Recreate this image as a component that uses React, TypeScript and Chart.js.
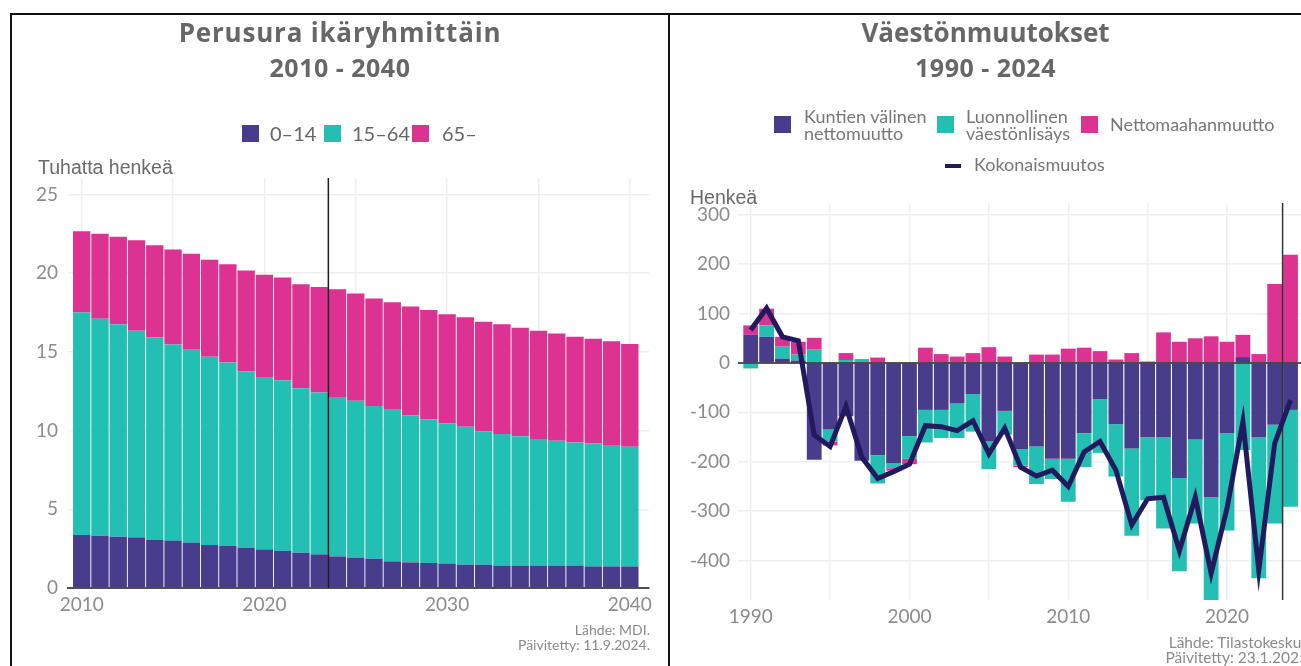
import React, { useEffect, useRef } from "react";
import { Chart, registerables } from "chart.js";

Chart.register(...registerables);

// ---------- Left chart data: Perusura ikäryhmittäin 2010 - 2040 (tuhatta henkeä) ----------
const popYears = [
  2010, 2011, 2012, 2013, 2014, 2015, 2016, 2017, 2018, 2019, 2020, 2021, 2022, 2023, 2024, 2025,
  2026, 2027, 2028, 2029, 2030, 2031, 2032, 2033, 2034, 2035, 2036, 2037, 2038, 2039, 2040,
];
const age0to14 = [
  3.37, 3.32, 3.26, 3.22, 3.05, 3.01, 2.88, 2.73, 2.67, 2.56, 2.45, 2.35, 2.24, 2.14, 2.01, 1.91,
  1.86, 1.69, 1.63, 1.59, 1.53, 1.48, 1.48, 1.42, 1.42, 1.42, 1.42, 1.42, 1.37, 1.37, 1.37,
];
const age15to64 = [
  14.13, 13.78, 13.5, 13.12, 12.86, 12.46, 12.25, 11.97, 11.65, 11.21, 10.96, 10.85, 10.45, 10.28,
  10.13, 9.98, 9.71, 9.63, 9.34, 9.13, 8.92, 8.76, 8.48, 8.37, 8.22, 8.05, 7.94, 7.82, 7.82, 7.72,
  7.61,
];
const age65plus = [
  5.17, 5.4, 5.55, 5.76, 5.87, 6.04, 6.1, 6.15, 6.25, 6.4, 6.49, 6.53, 6.61, 6.71, 6.84, 6.82, 6.82,
  6.84, 6.91, 6.95, 6.94, 6.96, 6.95, 6.97, 6.89, 6.87, 6.81, 6.72, 6.64, 6.59, 6.53,
];
const popLegend = ["0–14", "15–64", "65–"];
const popXTicks = [2010, 2015, 2020, 2025, 2030, 2035, 2040];
const popYTicks = [0, 5, 10, 15, 20, 25];

// ---------- Right chart data: Väestönmuutokset 1990 - 2024 (henkeä) ----------
const changeYears = [
  1990, 1991, 1992, 1993, 1994, 1995, 1996, 1997, 1998, 1999, 2000, 2001, 2002, 2003, 2004, 2005,
  2006, 2007, 2008, 2009, 2010, 2011, 2012, 2013, 2014, 2015, 2016, 2017, 2018, 2019, 2020, 2021,
  2022, 2023, 2024,
];
const internalMigration = [
  57, 53, 9, 5, -196, -134, -108, -198, -187, -203, -148, -95, -95, -82, -63, -159, -97, -174, -169,
  -194, -194, -142, -73, -124, -173, -150, -150, -233, -155, -272, -142, 12, -150, -125, -95,
];
const naturalIncrease = [
  -11, 23, 24, 12, 28, -25, 6, 8, -57, -10, -46, -66, -57, -70, -76, -56, -48, -34, -76, -41, -87,
  -69, -109, -106, -177, -128, -185, -189, -170, -208, -197, -176, -286, -200, -196,
];
const netImmigration = [
  19, 34, 20, 26, 23, -8, 14, 0, 11, -5, -11, 31, 18, 13, 20, 32, 13, -3, 17, 17, 29, 31, 24, 7, 20,
  3, 62, 43, 50, 54, 43, 45, 18, 160, 219,
];
const totalChange = [
  67, 111, 53, 45, -146, -169, -88, -191, -234, -220, -205, -127, -129, -137, -117, -184, -132,
  -211, -229, -217, -250, -180, -159, -217, -328, -275, -272, -380, -272, -426, -294, -119, -420,
  -163, -75,
];
const changeLegend = [
  ["Kuntien välinen", "nettomuutto"],
  ["Luonnollinen", "väestönlisäys"],
  ["Nettomaahanmuutto"],
  ["Kokonaismuutos"],
];
const changeXTicks = [1990, 1995, 2000, 2005, 2010, 2015, 2020];
const changeYTicks = [-400, -300, -200, -100, 0, 100, 200, 300];

const forecastMarker = 2023.5;

// ---------- Styles ----------
const PURPLE = "#483c8c";
const TEAL = "#24bfb3";
const MAGENTA = "#dc3292";
const NAVY = "#23195f";
const GRID = "#efefef";
const TICK = "#8c8c8c";
const TITLE = "#676767";
const FONT = "Lato, 'Open Sans', sans-serif";
const TITLE_FONT = "'Open Sans', Lato, sans-serif";

const markerPlugin = {
  id: "markerLeft",
  afterDatasetsDraw(chart: any) {
    const { ctx, chartArea, scales } = chart;
    const px = scales.x.getPixelForValue(forecastMarker);
    ctx.save();
    ctx.strokeStyle = "#1c1c1c";
    ctx.lineWidth = 1.5;
    ctx.beginPath();
    ctx.moveTo(px, chartArea.top);
    ctx.lineTo(px, chartArea.bottom);
    ctx.stroke();
    ctx.restore();
  },
};

const markerRightPlugin = {
  id: "markerRight",
  beforeDatasetDraw(chart: any, args: any) {
    if (args.index !== 3) return;
    const { ctx, chartArea, scales } = chart;
    const py = scales.y.getPixelForValue(0);
    const px = scales.x.getPixelForValue(forecastMarker);
    ctx.save();
    ctx.strokeStyle = "#1c1c1c";
    ctx.lineWidth = 1.5;
    ctx.beginPath();
    ctx.moveTo(chartArea.left, py);
    ctx.lineTo(chartArea.right, py);
    ctx.stroke();
    ctx.strokeStyle = "#333";
    ctx.beginPath();
    ctx.moveTo(px, chartArea.top);
    ctx.lineTo(px, chartArea.bottom);
    ctx.stroke();
    ctx.restore();
  },
};

const tickFont = { family: FONT, size: 19 };

function pts(xs: number[], ys: number[]) {
  return xs.map((x, i) => ({ x, y: ys[i] }));
}
const setTicks = (values: number[]) => (s: any) => {
  s.ticks = values.map((v) => ({ value: v }));
};

const abs = (s: React.CSSProperties): React.CSSProperties => ({ position: "absolute", margin: 0, whiteSpace: "nowrap", ...s });

export default function App() {
  const leftRef = useRef<HTMLCanvasElement>(null);
  const rightRef = useRef<HTMLCanvasElement>(null);

  useEffect(() => {
    const barOpts = { categoryPercentage: 1, barPercentage: 0.95, borderWidth: 0 };
    const left = new Chart(leftRef.current!, {
      type: "bar",
      data: {
        datasets: [
          { label: popLegend[0], data: pts(popYears, age0to14), backgroundColor: PURPLE, ...barOpts },
          { label: popLegend[1], data: pts(popYears, age15to64), backgroundColor: TEAL, ...barOpts },
          { label: popLegend[2], data: pts(popYears, age65plus), backgroundColor: MAGENTA, ...barOpts },
        ],
      },
      options: {
        responsive: false,
        animation: false,
        layout: { padding: { left: 0, right: 19, top: 163, bottom: 48 } },
        plugins: { legend: { display: false }, tooltip: { enabled: false }, title: { display: false } },
        scales: {
          x: {
            type: "linear",
            stacked: true,
            offset: false,
            min: 2009.25,
            max: 2041.05,
            afterBuildTicks: setTicks(popXTicks),
            ticks: {
              autoSkip: false,
              maxRotation: 0,
              color: TICK,
              font: tickFont,
              padding: 5,
              callback: (v: any) => (Number(v) % 10 === 0 ? String(v) : ""),
            },
            grid: { color: GRID, lineWidth: 1.5, drawTicks: false, offset: false },
            border: { display: true, color: "#4f4f4f", width: 2 },
            afterFit: (s: any) => {
              s.height = 30;
            },
          },
          y: {
            stacked: true,
            min: 0,
            max: 26.05,
            afterBuildTicks: setTicks(popYTicks),
            ticks: { color: TICK, font: tickFont, padding: 10 },
            grid: { color: GRID, lineWidth: 1.5, drawTicks: false },
            border: { display: false },
            afterFit: (s: any) => {
              s.width = 56;
            },
          },
        },
      },
      plugins: [markerPlugin],
    } as any);

    const barOpts2 = { categoryPercentage: 1, barPercentage: 0.93, borderWidth: 0, order: 1 };
    const right = new Chart(rightRef.current!, {
      type: "bar",
      data: {
        datasets: [
          { label: changeLegend[0].join(" "), data: pts(changeYears, internalMigration), backgroundColor: PURPLE, ...barOpts2 },
          { label: changeLegend[1].join(" "), data: pts(changeYears, naturalIncrease), backgroundColor: TEAL, ...barOpts2 },
          { label: changeLegend[2][0], data: pts(changeYears, netImmigration), backgroundColor: MAGENTA, ...barOpts2 },
          {
            type: "line",
            label: changeLegend[3][0],
            data: pts(changeYears, totalChange),
            borderColor: NAVY,
            backgroundColor: NAVY,
            borderWidth: 5,
            pointRadius: 0,
            tension: 0,
            borderJoinStyle: "miter",
            stack: "total",
            order: 0,
          },
        ],
      },
      options: {
        responsive: false,
        animation: false,
        layout: { padding: { left: 0, right: 12, top: 188, bottom: 36 } },
        plugins: { legend: { display: false }, tooltip: { enabled: false }, title: { display: false } },
        scales: {
          x: {
            type: "linear",
            stacked: true,
            offset: false,
            min: 1989.2,
            max: 2025.1,
            afterBuildTicks: setTicks(changeXTicks),
            ticks: {
              autoSkip: false,
              maxRotation: 0,
              color: TICK,
              font: tickFont,
              padding: 5,
              callback: (v: any) => (Number(v) % 10 === 0 ? String(v) : ""),
            },
            grid: { color: GRID, lineWidth: 1.5, drawTicks: false, offset: false },
            border: { display: false },
            afterFit: (s: any) => {
              s.height = 30;
            },
          },
          y: {
            stacked: true,
            min: -480,
            max: 324,
            afterBuildTicks: setTicks(changeYTicks),
            ticks: { color: TICK, font: tickFont, padding: 8 },
            grid: { color: (c: any) => (c.tick && c.tick.value === 0 ? "rgba(0,0,0,0)" : GRID), lineWidth: 1.5, drawTicks: false },
            border: { display: false },
            afterFit: (s: any) => {
              s.width = 68;
            },
          },
        },
      },
      plugins: [markerRightPlugin],
    } as any);

    return () => {
      left.destroy();
      right.destroy();
    };
  }, []);

  const titleStyle = (left: number, width: number, top: number, size: number, spacing: number): React.CSSProperties =>
    abs({ left, width, top, textAlign: "center", fontFamily: TITLE_FONT, fontWeight: 700, fontSize: size, lineHeight: 1.2, color: TITLE, letterSpacing: spacing });
  const legendText: React.CSSProperties = { fontFamily: FONT, fontSize: 20, lineHeight: 1.2, color: "#666" };
  const legend2Text: React.CSSProperties = { fontFamily: FONT, fontSize: 18, lineHeight: "16.7px", color: "#777" };
  const noteText: React.CSSProperties = { fontFamily: FONT, fontSize: 14, lineHeight: 1.2, color: "#8a8a8a", textAlign: "right" };
  const note2Text: React.CSSProperties = { ...noteText, fontSize: 15.5 };
  const axisTitle: React.CSSProperties = { fontFamily: "'Liberation Sans', Arial, sans-serif", fontSize: 19.5, lineHeight: "22px", color: "#6a6a6a" };

  return (
    <div style={{ position: "fixed", left: 0, top: 0, width: 1301, height: 666, overflow: "hidden", background: "#fff" }}>
      {/* frame */}
      <div style={abs({ left: 10, top: 13, width: 1291, height: 2, background: "#111" })} />
      <div style={abs({ left: 10, top: 13, width: 2, height: 653, background: "#111" })} />
      <div style={abs({ left: 668, top: 13, width: 2, height: 653, background: "#111" })} />

      {/* left panel */}
      <canvas ref={leftRef} width={656} height={651} style={abs({ left: 12, top: 15, width: 656, height: 651 })} />
      <div style={titleStyle(12, 656, 17, 26, 0.8)}>Perusura ikäryhmittäin</div>
      <div style={titleStyle(12, 656, 52, 25, 0.5)}>2010 - 2040</div>
      <div style={abs({ left: 242, top: 125, width: 17, height: 17, background: PURPLE })} />
      <div style={abs({ left: 270, top: 121, ...legendText })}>{popLegend[0]}</div>
      <div style={abs({ left: 324, top: 125, width: 17, height: 17, background: TEAL })} />
      <div style={abs({ left: 352, top: 121, ...legendText })}>{popLegend[1]}</div>
      <div style={abs({ left: 412, top: 125, width: 17, height: 17, background: MAGENTA })} />
      <div style={abs({ left: 442, top: 121, ...legendText })}>{popLegend[2]}</div>
      <div style={abs({ left: 38, top: 156, ...axisTitle })}>Tuhatta henkeä</div>
      <div style={abs({ left: 350, width: 300, top: 622, ...noteText })}>Lähde: MDI.</div>
      <div style={abs({ left: 350, width: 300, top: 637, ...noteText })}>Päivitetty: 11.9.2024.</div>

      {/* right panel */}
      <div style={abs({ left: 670, top: 15, width: 631, height: 651, overflow: "hidden" })}>
        <canvas ref={rightRef} width={650} height={651} style={abs({ left: 0, top: 0, width: 650, height: 651 })} />
      </div>
      <div style={titleStyle(670, 631, 17, 26, 0)}>Väestönmuutokset</div>
      <div style={titleStyle(670, 631, 52, 25, 0.5)}>1990 - 2024</div>
      <div style={abs({ left: 774, top: 116, width: 17, height: 17, background: PURPLE })} />
      <div style={abs({ left: 804, top: 108.2, ...legend2Text })}>
        {changeLegend[0][0]}
        <br />
        {changeLegend[0][1]}
      </div>
      <div style={abs({ left: 937, top: 116, width: 17, height: 17, background: TEAL })} />
      <div style={abs({ left: 966, top: 108.2, ...legend2Text })}>
        {changeLegend[1][0]}
        <br />
        {changeLegend[1][1]}
      </div>
      <div style={abs({ left: 1081, top: 116, width: 17, height: 17, background: MAGENTA })} />
      <div style={abs({ left: 1110, top: 116.2, ...legend2Text })}>{changeLegend[2][0]}</div>
      <div style={abs({ left: 945, top: 163.5, width: 16, height: 4, background: NAVY })} />
      <div style={abs({ left: 974, top: 156, ...legend2Text })}>{changeLegend[3][0]}</div>
      <div style={abs({ left: 690, top: 186, ...axisTitle })}>Henkeä</div>
      <div style={abs({ left: 1008, width: 300, top: 633, ...note2Text })}>Lähde: Tilastokeskus</div>
      <div style={abs({ left: 1008, width: 300, top: 648, ...note2Text })}>Päivitetty: 23.1.2025</div>
    </div>
  );
}
